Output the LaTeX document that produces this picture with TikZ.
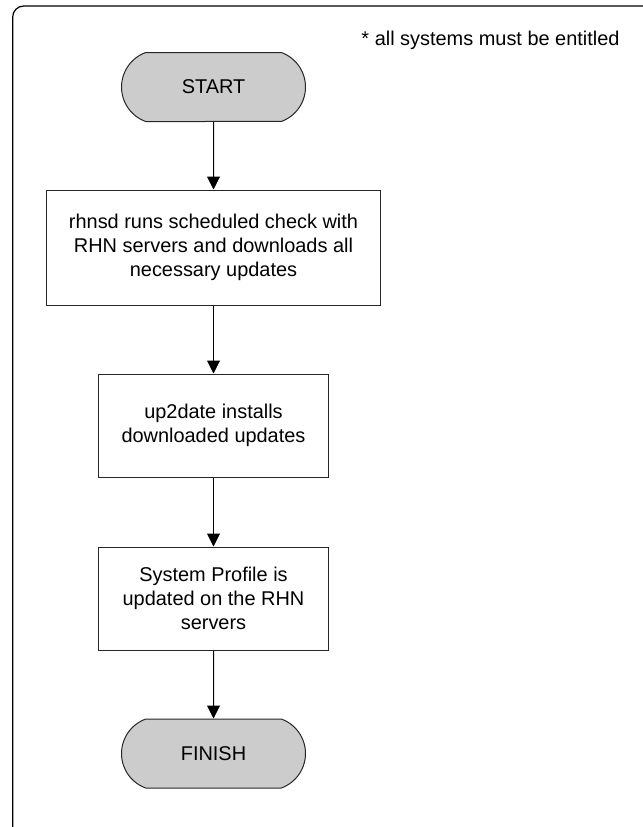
\documentclass[tikz,border=0pt]{standalone}
\usepackage{fontspec}
\setmainfont{Liberation Sans}
\usetikzlibrary{shapes.misc,arrows.meta}

\begin{document}
\begin{tikzpicture}[x=1bp,y=-1bp,
		font=\fontsize{20}{24}\selectfont,
		terminal/.style={draw=black!85, fill=black!20, line width=1bp, rounded rectangle, rounded rectangle arc length=140, minimum width=184bp, minimum height=69bp, inner sep=0pt},
		stepbox/.style={draw=black!85, line width=1bp, rectangle, align=center, inner sep=0pt},
		flow/.style={line width=1bp, -{Triangle[length=13bp,width=13bp]}}]
				\useasboundingbox (0,0) rectangle (643,827);
				\begin{scope}
					\clip (0,0) rectangle (643,827);
					\draw[line width=1.2bp, rounded corners=11bp] (12.7,6) rectangle (670,838);
				\end{scope}
				\node (note) at (490.5,40) {* all systems must be entitled};
				\node[terminal] (start) at (213.5,87) {START};
				\node[stepbox, minimum width=333bp, minimum height=115bp] (check) at (213.5,247.5) {rhnsd runs scheduled check with\\RHN servers and downloads all\\necessary updates};
				\node[stepbox, minimum width=230bp, minimum height=103bp] (install) at (213.5,425.5) {up2date installs\\downloaded updates};
				\node[stepbox, minimum width=230bp, minimum height=103bp] (profile) at (213.5,598.5) {System Profile is\\updated on the RHN\\servers};
				\node[terminal] (finish) at (213.5,753.5) {FINISH};
				\draw[flow] (start) -- (check);
				\draw[flow] (check) -- (install);
				\draw[flow] (install) -- (profile);
				\draw[flow] (profile) -- (finish);
\end{tikzpicture}
\end{document}
